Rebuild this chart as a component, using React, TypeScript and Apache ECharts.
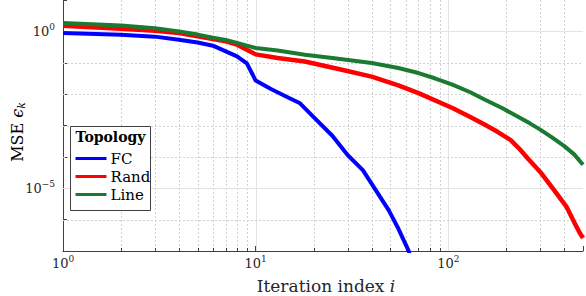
import React, { useEffect, useRef } from "react";
import * as echarts from "echarts";

const SERIES_NAMES = ["FC", "Rand", "Line"];
const COLORS = ["#0000ff", "#ff0000", "#1b7a32"];
const LEGEND_TITLE = "Topology";

const ITER_FC = [1, 2, 3, 4, 5, 6, 7, 8, 9, 10, 12, 15, 17, 20, 25, 30, 36, 42, 49, 55, 62, 63];
const MSE_FC = [0.89, 0.785, 0.68, 0.54, 0.44, 0.35, 0.23, 0.16, 0.095, 0.027, 0.0145, 0.0074, 0.0051, 0.00185, 0.00047, 0.000115, 3.8e-5, 8.7e-6, 2.0e-6, 5.2e-7, 1.07e-7, 8.0e-8];

const ITER_RAND = [1, 2, 3, 4, 5, 6, 7, 8, 9, 10, 13, 18, 28, 40, 55, 70, 105, 130, 155, 180, 210, 235, 260, 304, 350, 410, 450, 482, 500];
const MSE_RAND = [1.5, 1.22, 1.05, 0.89, 0.7, 0.575, 0.48, 0.376, 0.26, 0.185, 0.141, 0.11, 0.06, 0.036, 0.019, 0.0108, 0.0036, 0.00186, 0.00105, 6.3e-4, 3.5e-4, 1.75e-4, 8.5e-5, 3.0e-5, 9.5e-6, 2.6e-6, 8.3e-7, 3.7e-7, 2.6e-7];

const ITER_LINE = [1, 2, 3, 4, 5, 6, 7, 8, 9, 10, 13, 18, 25, 40, 55, 70, 85, 105, 130, 155, 190, 230, 265, 300, 345, 400, 450, 500];
const MSE_LINE = [1.85, 1.55, 1.26, 1.0, 0.79, 0.63, 0.53, 0.43, 0.35, 0.295, 0.245, 0.18, 0.141, 0.098, 0.068, 0.047, 0.032, 0.02, 0.0115, 0.0066, 0.0036, 0.0019, 0.00117, 7.4e-4, 4.2e-4, 2.2e-4, 1.2e-4, 5.6e-5];

const X_MINOR = [2, 3, 4, 5, 6, 7, 8, 9, 20, 30, 40, 50, 60, 70, 80, 90, 200, 300, 400];
const X_MAJOR = [10, 100];
const Y_DECADES = [1e-6, 1e-5, 1e-4, 1e-3, 1e-2, 1e-1, 1];
const Y_LABELLED = [1, 1e-5];

const X_MIN = 1;
const X_MAX = 500;
const Y_MIN = 1e-7;
const Y_MAX = 10;

const FONT = "DejaVu Serif";
const TXT = "#262626";

function isPow10(v: number) {
  const l = Math.log10(v);
  return Math.abs(l - Math.round(l)) < 1e-6;
}
function supLabel(v: number) {
  const e = Math.round(Math.log10(v));
  return `{b|10}{s|${e < 0 ? "\u2212" : ""}${Math.abs(e)}}`;
}
const tickRich = {
  b: { fontSize: 13, fontFamily: FONT, color: TXT, lineHeight: 18 },
  s: { fontSize: 9, fontFamily: FONT, color: TXT, lineHeight: 10, verticalAlign: "top" },
};

export default function App() {
  const ref = useRef<HTMLDivElement>(null);
  useEffect(() => {
    document.body.style.margin = "0";
    if (!ref.current) return;
    const chart = echarts.init(ref.current, null, { renderer: "svg" });
    const zip = (xs: number[], ys: number[]) => xs.map((x, i) => [x, ys[i]]);
    const lineData = [zip(ITER_FC, MSE_FC), zip(ITER_RAND, MSE_RAND), zip(ITER_LINE, MSE_LINE)];

    const legendTop = 158.5;
    const legendStep = 18;
    const legendItems: any[] = [];
    SERIES_NAMES.forEach((name, k) => {
      const y = legendTop + k * legendStep;
      legendItems.push({
        type: "line",
        z: 6,
        shape: { x1: 75.5, y1: y, x2: 106.5, y2: y },
        style: { stroke: COLORS[k], lineWidth: 3 },
      });
      legendItems.push({
        type: "text",
        z: 6,
        x: 110.5,
        y,
        style: { text: name, fontFamily: FONT, fontSize: 15, fill: "#000", align: "left", verticalAlign: "middle" },
      });
    });

    const option: any = {
      animation: false,
      textStyle: { fontFamily: FONT },
      grid: { left: 63, right: 1, top: 0, bottom: 45, containLabel: false },
      xAxis: {
        type: "log",
        logBase: 10,
        min: X_MIN,
        max: X_MAX,
        axisLine: { show: true, lineStyle: { color: "#404040", width: 1 } },
        axisTick: { show: true, inside: true, length: 5, lineStyle: { color: "#404040" } },
        axisLabel: {
          margin: 3,
          formatter: (v: number) => (isPow10(v) ? supLabel(v) : ""),
          rich: tickRich,
        },
        splitLine: { show: false },
      },
      yAxis: {
        type: "log",
        logBase: 10,
        min: Y_MIN,
        max: Y_MAX,
        splitNumber: 8,
        axisLine: { show: true, lineStyle: { color: "#404040", width: 1 } },
        axisTick: { show: true, inside: true, length: 4, lineStyle: { color: "#404040" } },
        axisLabel: {
          margin: 8,
          formatter: (v: number) => {
            if (!isPow10(v)) return "";
            const e = Math.round(Math.log10(v));
            return Y_LABELLED.some((t) => Math.round(Math.log10(t)) === e) ? supLabel(v) : "";
          },
          rich: tickRich,
        },
        splitLine: { show: false },
      },
      graphic: [
        {
          type: "rect",
          shape: { x: 70.5, y: 126.5, width: 80, height: 84 },
          style: { fill: "#fff", stroke: "#404040", lineWidth: 1 },
          z: 5,
        },
        {
          type: "text",
          x: 110.5,
          y: 137,
          z: 6,
          style: {
            text: LEGEND_TITLE,
            fontFamily: FONT,
            fontWeight: "bold",
            fontSize: 14,
            fill: "#000",
            align: "center",
            verticalAlign: "middle",
          },
        },
        ...legendItems,
        {
          type: "text",
          x: 326,
          y: 286,
          style: {
            text: "{n|Iteration index }{i|i}",
            rich: {
              n: { fontFamily: FONT, fontSize: 17, fill: TXT, color: TXT },
              i: { fontFamily: FONT, fontSize: 17, fontStyle: "italic", fill: TXT, color: TXT },
            },
            align: "center",
            verticalAlign: "middle",
          },
        },
        {
          type: "text",
          x: 17,
          y: 132,
          rotation: Math.PI / 2,
          style: {
            text: "{n|MSE }{e|\u03f5}{k|k}",
            rich: {
              n: { fontFamily: FONT, fontSize: 16, color: TXT, lineHeight: 20 },
              e: { fontFamily: FONT, fontSize: 16, fontStyle: "italic", color: TXT, lineHeight: 20 },
              k: { fontFamily: FONT, fontSize: 11, fontStyle: "italic", color: TXT, lineHeight: 12, verticalAlign: "bottom" },
            },
            align: "center",
            verticalAlign: "middle",
          },
        },
      ],
      series: [
        {
          type: "custom",
          z: 1,
          silent: true,
          data: X_MINOR.map((v) => [v, 1]),
          renderItem: (params: any, api: any) => {
            const cs = params.coordSys;
            const x = Math.round(api.coord([api.value(0), 1])[0]) + 0.5;
            return {
              type: "group",
              children: [
                { type: "line", shape: { x1: x, y1: cs.y, x2: x, y2: cs.y + cs.height }, style: { stroke: "#d0d0d0", lineWidth: 1, lineDash: [2, 2] } },
                { type: "line", shape: { x1: x, y1: cs.y + cs.height, x2: x, y2: cs.y + cs.height - 3 }, style: { stroke: "#404040", lineWidth: 1 } },
              ],
            };
          },
        },
        {
          type: "custom",
          z: 1,
          silent: true,
          data: X_MAJOR.map((v) => [v, 1]),
          renderItem: (params: any, api: any) => {
            const cs = params.coordSys;
            const x = Math.round(api.coord([api.value(0), 1])[0]) + 0.5;
            return { type: "line", shape: { x1: x, y1: cs.y, x2: x, y2: cs.y + cs.height }, style: { stroke: "#e3e3e3", lineWidth: 1 } };
          },
        },
        {
          type: "custom",
          z: 1,
          silent: true,
          data: Y_DECADES.map((v) => [1, v]),
          renderItem: (params: any, api: any) => {
            const cs = params.coordSys;
            const v = api.value(1);
            const y = Math.round(api.coord([1, v])[1]) + 0.5;
            const major = Y_LABELLED.some((t) => Math.abs(Math.log10(t) - Math.log10(v)) < 1e-6);
            return {
              type: "line",
              shape: { x1: cs.x, y1: y, x2: cs.x + cs.width, y2: y },
              style: major ? { stroke: "#e3e3e3", lineWidth: 1 } : { stroke: "#d0d0d0", lineWidth: 1, lineDash: [2, 2] },
            };
          },
        },
        ...SERIES_NAMES.map((name, k) => ({
          name,
          type: "line",
          z: 3,
          data: lineData[k],
          showSymbol: false,
          clip: true,
          lineStyle: { color: COLORS[k], width: k === 1 ? 4.5 : 4, join: "round" },
          itemStyle: { color: COLORS[k] },
        })),
      ],
    };
    chart.setOption(option);
    return () => chart.dispose();
  }, []);
  return <div ref={ref} style={{ width: 586, height: 296 }} />;
}
